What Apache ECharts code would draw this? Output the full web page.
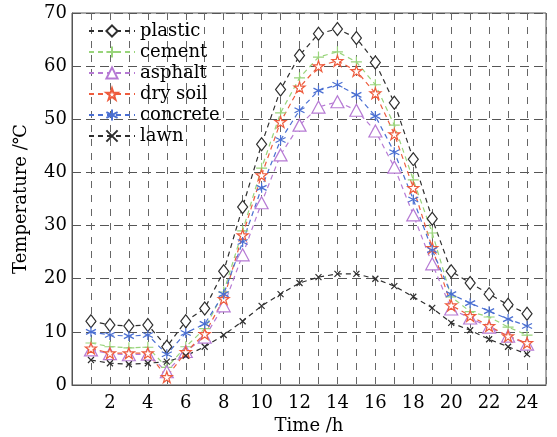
<!DOCTYPE html>
<html>
<head>
<meta charset="utf-8">
<script src="https://cdn.jsdelivr.net/npm/echarts@6/dist/echarts.min.js"></script>
<style>
html, body { margin: 0; padding: 0; background: #fff; }
#main { width: 557px; height: 437px; }
</style>
</head>
<body>
<div id="main"></div>
<script>
// hours of the day
var hours = [1, 2, 3, 4, 5, 6, 7, 8, 9, 10, 11, 12, 13, 14, 15, 16, 17, 18, 19, 20, 21, 22, 23, 24];
var yTicks = [0, 10, 20, 30, 40, 50, 60, 70];

var plastic = [12.0, 11.3, 11.1, 11.3, 7.2, 12.0, 14.4, 21.4, 33.5, 45.3, 55.6, 62.0, 66.1, 67.0, 65.3, 60.7, 53.1, 42.5, 31.3, 21.4, 19.2, 17.1, 15.1, 13.4];
var cement = [7.9, 7.2, 7.0, 7.1, 3.3, 7.2, 10.6, 17.5, 29.0, 40.8, 51.2, 57.8, 61.7, 62.7, 60.8, 56.5, 48.9, 38.6, 28.6, 16.6, 13.8, 12.8, 10.9, 9.4];
var asphalt = [6.6, 5.9, 5.7, 5.8, 2.5, 6.3, 9.0, 14.9, 24.5, 34.3, 43.3, 48.9, 52.3, 53.3, 51.7, 47.8, 41.0, 32.0, 22.8, 14.3, 12.6, 10.9, 9.2, 7.7];
var drySoil = [6.9, 6.0, 6.0, 6.0, 1.5, 6.2, 9.6, 16.2, 28.2, 39.5, 49.5, 56.0, 60.0, 61.0, 59.1, 54.9, 47.2, 37.1, 25.8, 15.0, 13.0, 11.1, 9.2, 7.9];
var concrete = [10.0, 9.4, 9.2, 9.4, 5.8, 9.8, 11.5, 17.1, 26.9, 37.1, 46.1, 51.7, 55.4, 56.5, 54.6, 50.6, 43.8, 34.9, 25.4, 17.1, 15.4, 13.9, 12.4, 11.1];
var lawn = [4.7, 4.1, 3.9, 4.1, 4.4, 5.5, 7.2, 9.4, 12.0, 14.9, 17.1, 19.2, 20.3, 20.9, 20.9, 20.0, 18.6, 16.6, 14.5, 11.7, 10.3, 8.6, 7.2, 5.8];

var names = ['plastic', 'cement', 'asphalt', 'dry soil', 'concrete', 'lawn'];
var values = [plastic, cement, asphalt, drySoil, concrete, lawn];
var colors = ['#2e2e2e', '#98d47a', '#b67ad4', '#ee5c3e', '#4a6fd2', '#2e2e2e'];
var symbols = [
	'diamond',
	'path://M5,0V10M0,5H10',
	'triangle',
	'path://M5,0L6.2,3.6L10,3.6L6.9,5.9L8.1,9.5L5,7.3L1.9,9.5L3.1,5.9L0,3.6L3.8,3.6Z',
	'path://M5,0V10M0.7,2.5L9.3,7.5M0.7,7.5L9.3,2.5',
	'path://M0,0L10,10M0,10L10,0'
];
var sizes = [[10, 13], 11, [13, 12], 11, 10, 6];

var font = 'DejaVu Serif';
var myChart = echarts.init(document.getElementById('main'));

var series = [];
for (var i = 0; i < names.length; i++) {
	var pts = [];
	for (var j = 0; j < hours.length; j++) {
		pts.push([hours[j], values[i][j]]);
	}
	series.push({
		name : names[i],
		type : 'line',
		data : pts,
		symbol : symbols[i],
		symbolSize : sizes[i],
		showAllSymbol : true,
		animation : false,
		lineStyle : {
			color : colors[i],
			width : 1.2,
			type : [5, 4]
		},
		itemStyle : {
			color : '#fff',
			borderColor : colors[i],
			borderWidth : 1.2
		}
	});
}

var option = {
	backgroundColor : '#fff',
	grid : {
		left : 72,
		right : 11,
		top : 13,
		bottom : 52,
		outerBoundsMode : 'none',
		show : true,
		borderColor : '#555',
		borderWidth : 1
	},
	legend : {
		orient : 'vertical',
		left : 88,
		top : 22,
		padding : 0,
		itemWidth : 46,
		itemHeight : 14,
		itemGap : 3,
		data : names,
		textStyle : {
			fontFamily : font,
			fontSize : 18,
			lineHeight : 18,
			color : '#000'
		}
	},
	xAxis : {
		type : 'value',
		min : 0,
		max : 25,
		interval : 1,
		name : 'Time /h',
		nameLocation : 'middle',
		nameGap : 28,
		nameTextStyle : {
			fontFamily : font,
			fontSize : 18,
			color : '#000'
		},
		axisLine : { lineStyle : { color : '#555' } },
		axisTick : { show : false },
		axisLabel : {
			margin : 9,
			fontFamily : font,
			fontSize : 18,
			color : '#000',
			formatter : function(v) {
				return (v > 0 && v < 25 && v % 2 === 0) ? v : '';
			}
		},
		splitLine : {
			show : true,
			lineStyle : { color : '#666', type : [7, 7], width : 1 }
		}
	},
	yAxis : {
		type : 'value',
		min : yTicks[0],
		max : yTicks[yTicks.length - 1],
		interval : 10,
		name : 'Temperature /℃',
		nameLocation : 'middle',
		nameGap : 42,
		nameTextStyle : {
			fontFamily : font,
			fontSize : 18,
			color : '#000'
		},
		axisLine : { show : true, lineStyle : { color : '#555' } },
		axisTick : { show : false },
		axisLabel : {
			margin : 5,
			fontFamily : font,
			fontSize : 18,
			color : '#000'
		},
		splitLine : {
			show : true,
			lineStyle : { color : '#555', type : [9, 5], width : 1 }
		}
	},
	series : series
};
myChart.setOption(option);
</script>
</body>
</html>
